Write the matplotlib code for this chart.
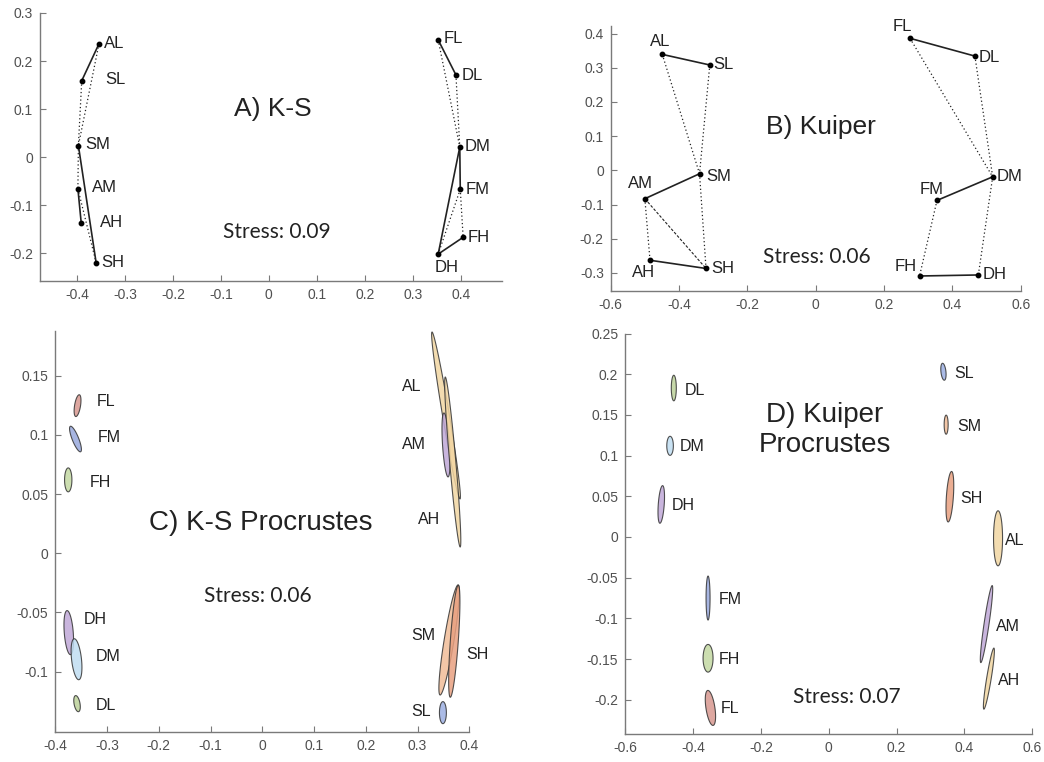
"""
plot.py - four-panel MDS comparison (K-S vs Kuiper, raw and Procrustes-bootstrapped).
"""

import numpy as np
import matplotlib
matplotlib.use("Agg")
import matplotlib.pyplot as plt

W, H = 1044, 762

# ---- panel A / B: MDS configurations -------------------------------------
POINT_LABELS = ["AL", "SL", "SM", "AM", "AH", "SH", "FL", "DL", "DM", "FM", "FH", "DH"]

A_X = [-0.354, -0.390, -0.397, -0.398, -0.391, -0.360, 0.353, 0.390, 0.398, 0.399, 0.405, 0.353]
A_Y = [0.236, 0.159, 0.024, -0.066, -0.138, -0.220, 0.244, 0.171, 0.021, -0.067, -0.167, -0.202]
A_SOLID = [("AL", "SL"), ("SM", "SH"), ("AM", "AH"), ("FL", "DL"), ("DM", "FM"), ("DM", "DH"), ("DH", "FH")]
A_DOTTED = [("AL", "SM"), ("SL", "SM"), ("SM", "AM"), ("AM", "SH"),
            ("FL", "DM"), ("DL", "DM"), ("FM", "DH"), ("FM", "FH")]
A_DASHED = []

B_X = [-0.449, -0.310, -0.340, -0.500, -0.485, -0.321, 0.276, 0.466, 0.518, 0.355, 0.304, 0.476]
B_Y = [0.339, 0.308, -0.010, -0.083, -0.263, -0.287, 0.386, 0.334, -0.019, -0.088, -0.309, -0.306]
B_SOLID = [("AL", "SL"), ("AM", "SM"), ("AH", "SH"), ("FL", "DL"), ("DM", "FM"), ("FH", "DH")]
B_DOTTED = [("AL", "SM"), ("SL", "SM"), ("SM", "SH"), ("AM", "AH"),
            ("FL", "DM"), ("DL", "DM"), ("FM", "FH"), ("DM", "DH")]
B_DASHED = [("AM", "SH")]

# ---- panel C / D: Procrustes ellipses (centre, half-width, half-height, tilt of top tip)
C_LABELS = ["FL", "FM", "FH", "DH", "DM", "DL", "AL", "AM", "AH", "SM", "SH", "SL"]
C_CX = [-0.357, -0.361, -0.375, -0.374, -0.359, -0.358, 0.355, 0.355, 0.368, 0.361, 0.371, 0.349]
C_CY = [0.1247, 0.0965, 0.062, -0.067, -0.0895, -0.127, 0.1164, 0.0915, 0.0771, -0.0732, -0.0743, -0.1346]
C_HW = [0.0058, 0.0067, 0.0071, 0.0087, 0.0096, 0.0058, 0.0067, 0.0067, 0.0060, 0.0096, 0.0077, 0.0067]
C_HH = [0.0092, 0.0108, 0.0101, 0.0186, 0.0173, 0.0068, 0.0705, 0.0270, 0.0718, 0.0465, 0.0473, 0.0093]
C_TILT = [0.0032, -0.0093, 0.0, -0.0032, -0.0042, -0.0025, -0.027, -0.004, -0.0144, 0.0173, 0.0077, 0.0]

D_LABELS = ["DL", "DM", "DH", "FM", "FH", "FL", "SL", "SM", "SH", "AL", "AM", "AH"]
D_CX = [-0.457, -0.468, -0.494, -0.356, -0.356, -0.349, 0.338, 0.346, 0.357, 0.499, 0.465, 0.472]
D_CY = [0.183, 0.112, 0.040, -0.075, -0.149, -0.210, 0.203, 0.138, 0.0495, -0.0016, -0.107, -0.174]
D_HW = [0.0074, 0.0097, 0.0088, 0.0059, 0.0147, 0.0133, 0.0074, 0.0059, 0.0103, 0.0133, 0.0074, 0.0068]
D_HH = [0.0157, 0.0117, 0.0231, 0.0270, 0.0170, 0.0215, 0.0104, 0.0117, 0.0310, 0.0338, 0.0473, 0.0375]
D_TILT = [0.0, 0.0, 0.0039, 0.0, 0.0, -0.0074, -0.0025, 0.0, 0.005, 0.0, 0.0167, 0.0147]

STRESS = {"A": 0.09, "B": 0.06, "C": 0.06, "D": 0.07}

# ---- styling ----------------------------------------------------------------
COLORS = {"FL": "#d89890", "FM": "#98a8dc", "FH": "#c4d9a2", "DH": "#c0a8d8",
          "DM": "#c0ddf2", "DL": "#bcd29a", "AL": "#f2d6a2", "AM": "#c0a8d8",
          "AH": "#f2d6a2", "SM": "#f0bc98", "SH": "#e8a080", "SL": "#9cb0e2"}
AXCOL = "#7a7a7a"
TXTCOL = "#505050"

# label offsets in pixels (dx right, dy up) from the point / ellipse centre
A_OFF = [(15, 0), (34, 1), (19, 1), (27, 1), (30, 1), (17, 0),
         (15, 1), (16, -1), (18, 0), (17, 0), (16, 0), (8, -13)]
B_OFF = [(-2, 13), (14, 0), (19, -3), (-4, 15), (-6, -12), (17, 0),
         (-8, 12), (14, -1), (17, 0), (-5, 11), (-14, 9), (16, 0)]
C_OFF = [(29, 4), (34, 2), (32, -3), (26, 13), (32, 3), (29, -2),
         (-34, 29), (-32, 0), (-24, -58), (-26, 4), (23, -13), (-22, 1)]
D_OFF = [(21, -2), (22, -1), (22, -1), (22, -1), (21, -1), (20, -1),
         (21, -2), (23, -2), (22, -2), (17, -2), (21, -2), (20, -2)]


def px_axes(fig, left, top, right, bottom):
    return fig.add_axes([left / W, 1 - bottom / H, (right - left) / W, (bottom - top) / H])


def style(ax, xlim, ylim, xticks, yticks):
    ax.set_xlim(*xlim)
    ax.set_ylim(*ylim)
    ax.set_xticks(xticks)
    ax.set_yticks(yticks)
    ax.set_xticklabels([f"{v + 0.0:g}" for v in xticks])
    ax.set_yticklabels([f"{v + 0.0:g}" for v in yticks])
    for s in ("top", "right"):
        ax.spines[s].set_visible(False)
    for s in ("left", "bottom"):
        ax.spines[s].set_color(AXCOL)
        ax.spines[s].set_linewidth(1.0)
    ax.tick_params(direction="in", length=4, width=0.8, color=AXCOL,
                   labelcolor=TXTCOL, labelsize=10, pad=5)
    ax.patch.set_alpha(0)


def network(ax, xs, ys, solid, dotted, dashed, offsets):
    pos = {lab: (x, y) for lab, x, y in zip(POINT_LABELS, xs, ys)}
    for pairs, ls, lw in ((dotted, (0, (1, 2)), 0.9), (dashed, (0, (2.5, 1.5)), 0.8),
                          (solid, "-", 1.2)):
        for a, b in pairs:
            ax.plot([pos[a][0], pos[b][0]], [pos[a][1], pos[b][1]],
                    color="#222222", ls=ls, lw=lw, clip_on=False)
    ax.plot(xs, ys, "o", color="black", ms=3.2, clip_on=False)
    for lab, x, y, (dx, dy) in zip(POINT_LABELS, xs, ys, offsets):
        ax.annotate(lab, (x, y), xytext=(dx, dy), textcoords="offset pixels",
                    ha="center", va="center", fontsize=12, color="#222222")


def ellipses(ax, labels, cx, cy, hw, hh, tilt, offsets):
    t = np.linspace(0, 2 * np.pi, 120)
    for lab, x0, y0, w, h, k, (dx, dy) in zip(labels, cx, cy, hw, hh, tilt, offsets):
        ax.fill(x0 + w * np.cos(t) + k * np.sin(t), y0 + h * np.sin(t),
                facecolor=COLORS[lab], edgecolor="#333333", lw=0.8, alpha=0.85, clip_on=False)
        ax.annotate(lab, (x0, y0), xytext=(dx, dy), textcoords="offset pixels",
                    ha="center", va="center", fontsize=11.5, color="#222222")


def label(fig, x, y, s, size, family="Liberation Sans"):
    fig.text(x / W, 1 - y / H, s, ha="center", va="center", fontsize=size,
             family=family, color="#222222", linespacing=1.25)


def main():
    plt.rcParams["font.family"] = ["Liberation Sans", "DejaVu Sans"]
    fig = plt.figure(figsize=(W / 100, H / 100), dpi=100)
    fig.patch.set_facecolor("white")

    ax = px_axes(fig, 40, 13, 502, 281)
    style(ax, (-0.477, 0.486), (-0.258, 0.3), np.round(np.arange(-0.4, 0.41, 0.1), 1),
          np.round(np.arange(-0.2, 0.31, 0.1), 1))
    network(ax, A_X, A_Y, A_SOLID, A_DOTTED, A_DASHED, A_OFF)

    ax = px_axes(fig, 610.7, 26, 1020.7, 290.7)
    style(ax, (-0.6, 0.6), (-0.352, 0.422), np.round(np.arange(-0.6, 0.61, 0.2), 1),
          np.round(np.arange(-0.3, 0.41, 0.1), 1))
    network(ax, B_X, B_Y, B_SOLID, B_DOTTED, B_DASHED, B_OFF)

    ax = px_axes(fig, 55.3, 330.7, 469.3, 731.7)
    style(ax, (-0.4, 0.4), (-0.1507, 0.188), np.round(np.arange(-0.4, 0.41, 0.1), 1),
          np.round(np.arange(-0.1, 0.16, 0.05), 2))
    ellipses(ax, C_LABELS, C_CX, C_CY, C_HW, C_HH, C_TILT, C_OFF)

    ax = px_axes(fig, 625.3, 333.5, 1032.3, 734.3)
    style(ax, (-0.6, 0.6), (-0.2424, 0.25), np.round(np.arange(-0.6, 0.61, 0.2), 1),
          np.round(np.arange(-0.2, 0.26, 0.05), 2))
    ellipses(ax, D_LABELS, D_CX, D_CY, D_HW, D_HH, D_TILT, D_OFF)

    label(fig, 273, 109, "A) K-S", 19)
    label(fig, 821, 127, "B) Kuiper", 19)
    label(fig, 261, 523, "C) K-S Procrustes", 20)
    label(fig, 825, 430, "D) Kuiper\nProcrustes", 20)

    label(fig, 277, 232, f"Stress: {STRESS['A']:.2f}", 15, "Lato")
    label(fig, 817, 257, f"Stress: {STRESS['B']:.2f}", 15, "Lato")
    label(fig, 258, 596, f"Stress: {STRESS['C']:.2f}", 15, "Lato")
    label(fig, 847, 697, f"Stress: {STRESS['D']:.2f}", 15, "Lato")

    fig.savefig("out.png", dpi=100, facecolor="white")
    plt.close(fig)


if __name__ == "__main__":
    main()
